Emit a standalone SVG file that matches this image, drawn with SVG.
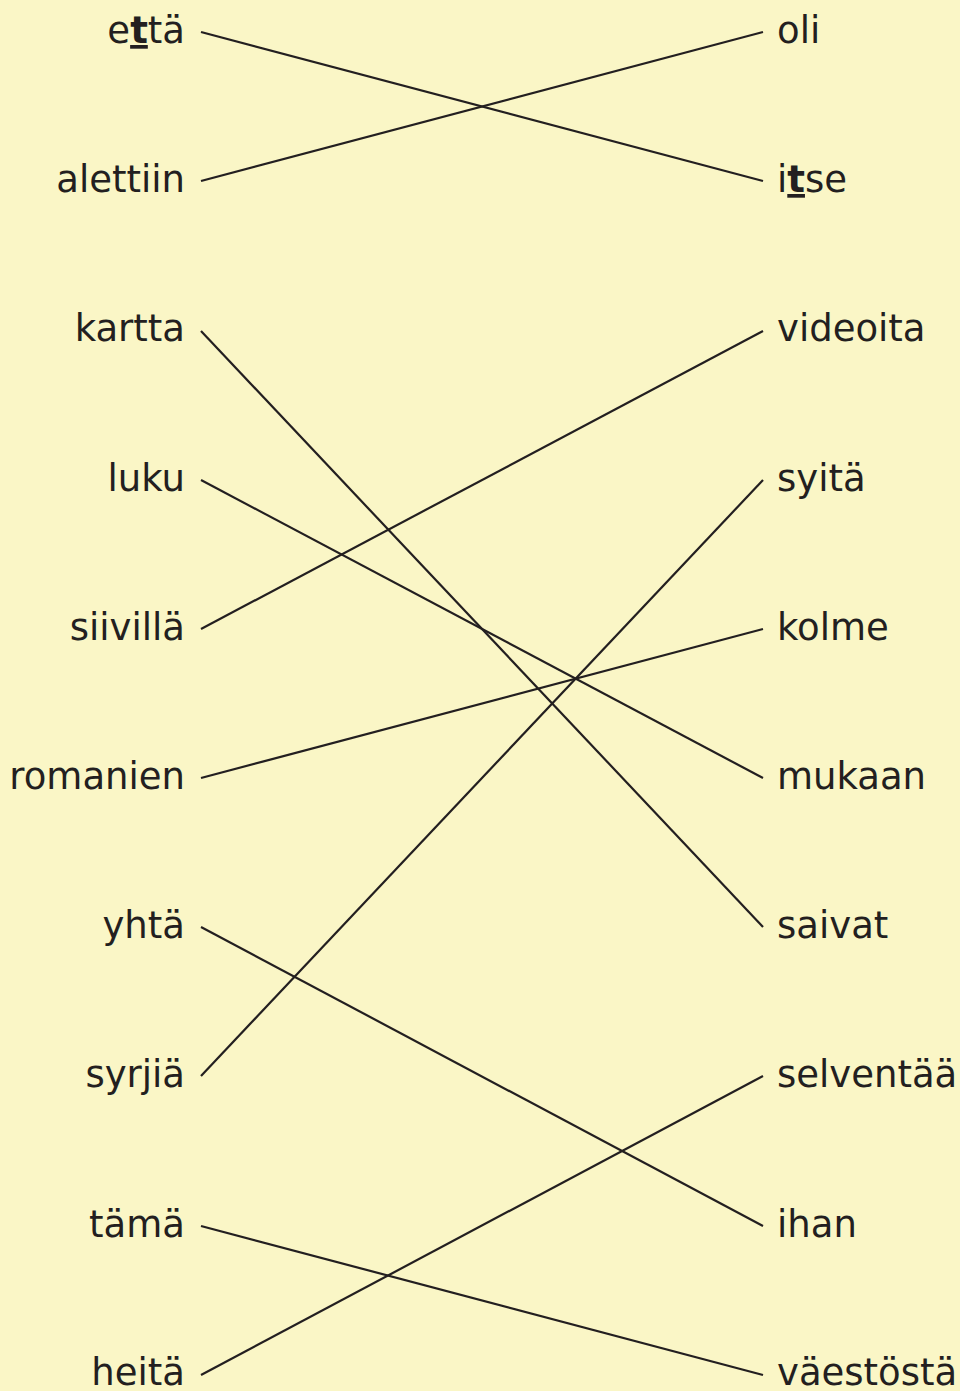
<svg xmlns="http://www.w3.org/2000/svg" width="960" height="1391" viewBox="0 0 960 1391">
<style>
text{font-family:"DejaVu Sans","Verdana",sans-serif;font-size:37px;fill:#231f20}
.l{text-anchor:end}
.u{font-weight:bold;text-decoration:underline}
#connectors line{stroke:#231f20;stroke-width:2.2}
</style>
<rect width="960" height="1391" fill="#faf6c6"/>
<g id="connectors">
<line x1="201" y1="32" x2="763" y2="181"/>
<line x1="201" y1="181" x2="763" y2="32"/>
<line x1="201" y1="331" x2="763" y2="927"/>
<line x1="201" y1="480" x2="763" y2="778"/>
<line x1="201" y1="629" x2="763" y2="331"/>
<line x1="201" y1="778" x2="763" y2="629"/>
<line x1="201" y1="927" x2="763" y2="1226"/>
<line x1="201" y1="1076" x2="763" y2="480"/>
<line x1="201" y1="1226" x2="763" y2="1375"/>
<line x1="201" y1="1375" x2="763" y2="1076"/>
</g>
<g id="n-etta"><text class="l" x="185" y="43">e<tspan class="u">t</tspan>tä</text></g>
<g id="n-alettiin"><text class="l" x="185" y="192">alettiin</text></g>
<g id="n-kartta"><text class="l" x="185" y="341">kartta</text></g>
<g id="n-luku"><text class="l" x="185" y="491">luku</text></g>
<g id="n-siivilla"><text class="l" x="185" y="640">siivillä</text></g>
<g id="n-romanien"><text class="l" x="185" y="789">romanien</text></g>
<g id="n-yhta"><text class="l" x="185" y="938">yhtä</text></g>
<g id="n-syrjia"><text class="l" x="185" y="1087">syrjiä</text></g>
<g id="n-tama"><text class="l" x="185" y="1237">tämä</text></g>
<g id="n-heita"><text class="l" x="185" y="1385">heitä</text></g>
<g id="n-oli"><text x="777" y="43">oli</text></g>
<g id="n-itse"><text x="777" y="192">i<tspan class="u">t</tspan>se</text></g>
<g id="n-videoita"><text x="777" y="341">videoita</text></g>
<g id="n-syita"><text x="777" y="491">syitä</text></g>
<g id="n-kolme"><text x="777" y="640">kolme</text></g>
<g id="n-mukaan"><text x="777" y="789">mukaan</text></g>
<g id="n-saivat"><text x="777" y="938">saivat</text></g>
<g id="n-selventaa"><text x="777" y="1087">selventää</text></g>
<g id="n-ihan"><text x="777" y="1237">ihan</text></g>
<g id="n-vaestosta"><text x="777" y="1385">väestöstä</text></g>
</svg>
